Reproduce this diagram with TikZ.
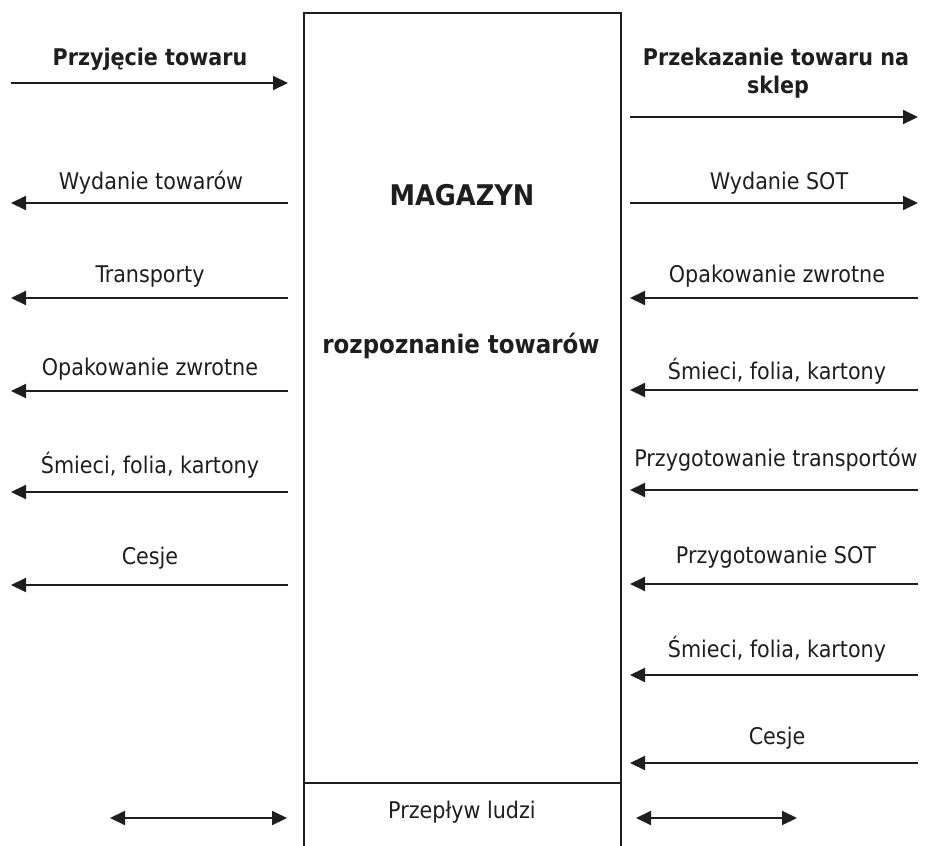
\documentclass[tikz,border=0pt]{standalone}
\usepackage{fontspec}
\setmainfont{DejaVu Sans Condensed}
\usetikzlibrary{arrows.meta}
\definecolor{ink}{HTML}{1E1E1E}
\tikzset{
  lbl/.style={font=\fontsize{23}{27}\selectfont, text=ink, inner sep=0pt, anchor=base},
  blbl/.style={lbl, font=\fontsize{23}{27}\selectfont\bfseries},
  title/.style={lbl, font=\fontsize{28.5}{32}\selectfont\bfseries},
  sub/.style={lbl, font=\fontsize{25.5}{30}\selectfont\bfseries},
  tip/.style={},
  flow/.style={line width=2pt, draw=ink, -{Triangle[length=15pt,width=14pt]}},
  both/.style={line width=2pt, draw=ink, {Triangle[length=15pt,width=14pt]}-{Triangle[length=15pt,width=14pt]}},
  wall/.style={line width=1.4pt, draw=ink}
}
\begin{document}
\begin{tikzpicture}[x=1pt, y=-1pt]
\useasboundingbox (0,0) rectangle (929,846);
% warehouse box (open at bottom)
\coordinate (bl) at (304,846);
\coordinate (tl) at (304,13);
\coordinate (tr) at (621,13);
\coordinate (br) at (621,846);
\coordinate (ml) at (304,783);
\coordinate (mr) at (621,783);
\draw[wall] (bl) -- (tl) -- (tr) -- (br);
\draw[wall] (ml) -- (mr);
\node[title] (mag) at (462,205) {MAGAZYN};
\node[sub] (roz) at (461,353) {rozpoznanie towarów};
\node[lbl] (lud) at (462,818) {Przepływ ludzi};

% left side labels
\node[blbl] (l1) at (150,65) {Przyjęcie towaru};
\node[lbl] (l2) at (151,189) {Wydanie towarów};
\node[lbl] (l3) at (150,282) {Transporty};
\node[lbl] (l4) at (150,375) {Opakowanie zwrotne};
\node[lbl] (l5) at (150,473) {Śmieci, folia, kartony};
\node[lbl] (l6) at (150,564) {Cesje};

% right side labels
\node[blbl] (r1a) at (776,65) {Przekazanie towaru na};
\node[blbl] (r1b) at (778,93) {sklep};
\node[lbl] (r2) at (779,189) {Wydanie SOT};
\node[lbl] (r3) at (777,282) {Opakowanie zwrotne};
\node[lbl] (r4) at (777,379) {Śmieci, folia, kartony};
\node[lbl] (r5) at (776,466) {Przygotowanie transportów};
\node[lbl] (r6) at (776,563) {Przygotowanie SOT};
\node[lbl] (r7) at (777,657) {Śmieci, folia, kartony};
\node[lbl] (r8) at (777,744) {Cesje};

% left arrow end points
\foreach \n/\y in {1/83, 2/203, 3/298, 4/391, 5/492, 6/585} {
  \coordinate (la\n) at (11,\y);
  \coordinate (lb\n) at (288,\y);
}
% right arrow end points
\foreach \n/\y in {1/117, 2/203, 3/298, 4/390, 5/490, 6/584, 7/675, 8/763} {
  \coordinate (ra\n) at (630,\y);
  \coordinate (rb\n) at (918,\y);
}
\coordinate (dl1) at (110,818);
\coordinate (dl2) at (287,818);
\coordinate (dr1) at (636,818);
\coordinate (dr2) at (797,818);

% left arrows
\draw[flow] (la1) -- (lb1);
\foreach \n in {2,...,6} { \draw[flow] (lb\n) -- (la\n); }
% right arrows
\draw[flow] (ra1) -- (rb1);
\draw[flow] (ra2) -- (rb2);
\foreach \n in {3,...,8} { \draw[flow] (rb\n) -- (ra\n); }
% people flow
\draw[both] (dl1) -- (dl2);
\draw[both] (dr1) -- (dr2);
\end{tikzpicture}
\end{document}
